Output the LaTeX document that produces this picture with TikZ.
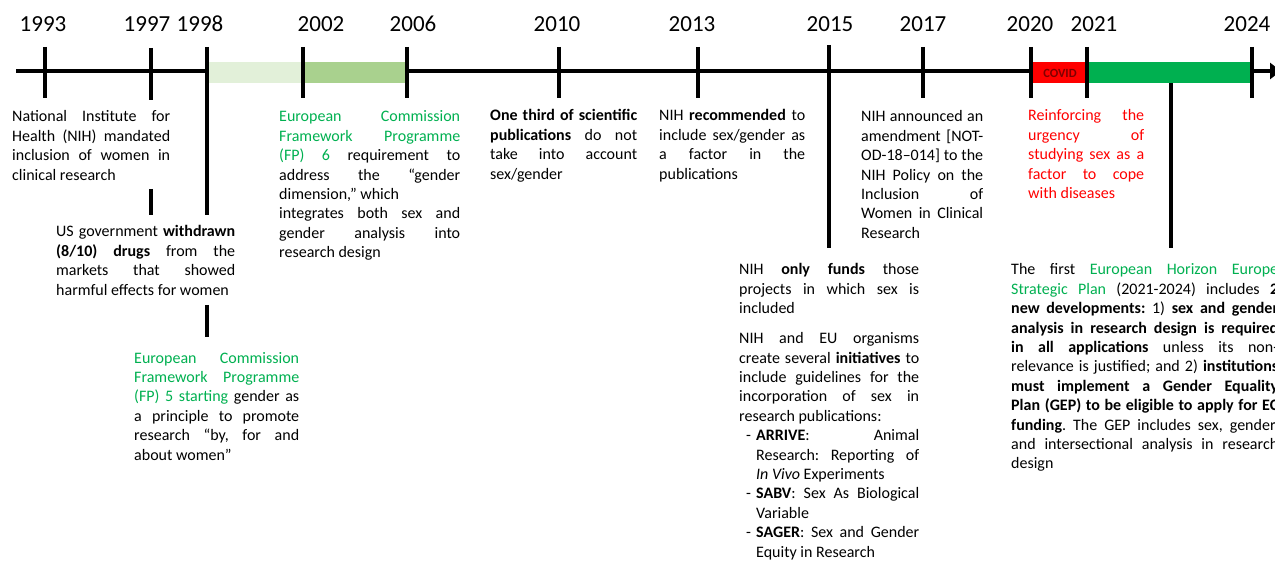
\documentclass[tikz,border=0pt]{standalone}
\usepackage{fontspec}
\setmainfont{Carlito}
\usetikzlibrary{arrows.meta}
\definecolor{ogreen}{HTML}{00B050}
\definecolor{lgreen}{HTML}{E2F0D9}
\definecolor{mgreen}{HTML}{A9D18E}
\definecolor{ored}{HTML}{FF0000}
\definecolor{covidtxt}{HTML}{7F0000}
\newcommand\J[1]{\makebox[\hsize][s]{#1}}
\newcommand\G[1]{\textcolor{ogreen}{#1}}
\newcommand\LI[1]{\leavevmode\hbox to\hsize{\hskip7pt-\hfill\makebox[163pt][s]{#1}}}
\newcommand\LJ[1]{\leavevmode\hbox to\hsize{\hfill\makebox[163pt][s]{#1}}}
\newcommand\LL[1]{\leavevmode\hbox to\hsize{\hfill\makebox[163pt][l]{#1}}}
\newcommand\blk[2]{\parbox[t]{#1}{\spaceskip=.226em plus 5em minus .06em\xspaceskip=\spaceskip\frenchspacing #2}}
\tikzset{
  txt/.style={anchor=base west, inner sep=0pt, font=\fontsize{16}{19.4}\selectfont},
  yr/.style={anchor=base, inner sep=0pt, font=\fontsize{23}{27}\selectfont},
  tk/.style={line width=4.5pt},
}
\begin{document}
\begin{tikzpicture}[x=1pt,y=-1pt]
\useasboundingbox (0,0) rectangle (1275,561);
% bars
\fill[lgreen] (209,62) rectangle (303,83);
\fill[mgreen] (303,62) rectangle (407,83);
\fill[ored] (1031,62) rectangle (1087,83);
\fill[ogreen] (1087,62) rectangle (1252,83);
\node[inner sep=0pt, text=covidtxt, font=\fontsize{12.5}{14}\selectfont\bfseries] (covid) at (1060,73) {COVID};
% axis
\draw[tk] (16,71) -- (207,71);
\draw[tk] (407,71) -- (1031,71);
\draw[tk, -{Triangle[length=11pt,width=16pt]}] (1252,71) -- (1281,71);
% ticks
\draw[tk] (45,47) -- (45,98);
\draw[tk] (151,48) -- (151,100);
\draw[tk] (151,189) -- (151,215);
\draw[tk] (207,47) -- (207,215);
\draw[tk] (207,305) -- (207,337);
\draw[tk] (303,47) -- (303,98);
\draw[tk] (407,47) -- (407,98);
\draw[tk] (559,47) -- (559,98);
\draw[tk] (698,47) -- (698,98);
\draw[tk] (829,45) -- (829,248);
\draw[tk] (923,47) -- (923,98);
\draw[tk] (1031,47) -- (1031,98);
\draw[tk] (1087,47) -- (1087,98);
\draw[tk] (1252,47) -- (1252,98);
\draw[tk] (1171,83) -- (1171,248);
% years
\node[yr] (y1993) at (43,32) {1993};
\node[yr] (y1997) at (147,32) {1997};
\node[yr] (y1998) at (200,32) {1998};
\node[yr] (y2002) at (321,32) {2002};
\node[yr] (y2006) at (413,32) {2006};
\node[yr] (y2010) at (557,32) {2010};
\node[yr] (y2013) at (692,32) {2013};
\node[yr] (y2015) at (830,32) {2015};
\node[yr] (y2017) at (923,32) {2017};
\node[yr] (y2020) at (1030,32) {2020};
\node[yr] (y2021) at (1094,32) {2021};
\node[yr] (y2024) at (1247,32) {2024};
% texts
\node[txt] (t1993) at (12,122) {\blk{158pt}{\J{National Institute for}\\
\J{Health (NIH) mandated}\\
\J{inclusion of women in}\\
clinical research}};
\node[txt] (t1997) at (56,237) {\blk{179pt}{\J{US government \textbf{withdrawn}}\\
\J{\textbf{(8/10) drugs} from the}\\
\J{markets that showed}\\
harmful effects for women}};
\node[txt] (t1998) at (134,363) {\blk{165pt}{\J{\G{European Commission}}\\
\J{\G{Framework Programme}}\\
\J{\G{(FP) 5 starting} gender as}\\
\J{a principle to promote}\\
\J{research “by, for and}\\
about women”}};
\node[txt] (t2002) at (279,122) {\blk{181pt}{\J{\G{European Commission}}\\
\J{\G{Framework Programme}}\\
\J{\G{(FP) 6} requirement to}\\
\J{address the “gender}\\
dimension,” which\\
\J{integrates both sex and}\\
\J{gender analysis into}\\
research design}};
\node[txt] (t2010) at (490,121) {\blk{147pt}{\J{\textbf{One third of scientific}}\\
\J{\textbf{publications} do not}\\
\J{take into account}\\
sex/gender}};
\node[txt] (t2013) at (659,121) {\blk{146pt}{\J{NIH \textbf{recommended} to}\\
\J{include sex/gender as}\\
\J{a factor in the}\\
publications}};
\node[txt] (t2017) at (861,122) {\blk{122pt}{\J{NIH announced an}\\
\J{amendment [NOT-}\\
\J{OD-18–014] to the}\\
\J{NIH Policy on the}\\
\J{Inclusion of}\\
\J{Women in Clinical}\\
Research}};
\node[txt, text=ored] (t2020) at (1028,121) {\blk{116pt}{\J{Reinforcing the}\\
\J{urgency of}\\
\J{studying sex as a}\\
\J{factor to cope}\\
with diseases}};
\node[txt] (t2015) at (739,275) {\blk{180pt}{\J{NIH \textbf{only funds} those}\\
\J{projects in which sex is}\\
included\\[10.6pt]
\J{NIH and EU organisms}\\
\J{create several \textbf{initiatives} to}\\
\J{include guidelines for the}\\
\J{incorporation of sex in}\\
research publications:\\
\LI{\textbf{ARRIVE}: Animal}\\
\LJ{Research: Reporting of}\\
\LL{\textit{In Vivo} Experiments}\\
\LI{\textbf{SABV}: Sex As Biological}\\
\LL{Variable}\\
\LI{\textbf{SAGER}: Sex and Gender}\\
\LL{Equity in Research}}};
\node[txt] (t2021) at (1011,275) {\blk{267pt}{\J{The first \G{European Horizon Europe}}\\
\J{\G{Strategic Plan} (2021-2024) includes \textbf{2}}\\
\J{\textbf{new developments:} 1) \textbf{sex and gender}}\\
\J{\textbf{analysis in research design is required}}\\
\J{\textbf{in all applications} unless its non-}\\
\J{relevance is justified; and 2) \textbf{institutions}}\\
\J{\textbf{must implement a Gender Equality}}\\
\J{\textbf{Plan (GEP) to be eligible to apply for EC}}\\
\J{\textbf{funding}. The GEP includes sex, gender,}\\
\J{and intersectional analysis in research}\\
design}};
\end{tikzpicture}
\end{document}
